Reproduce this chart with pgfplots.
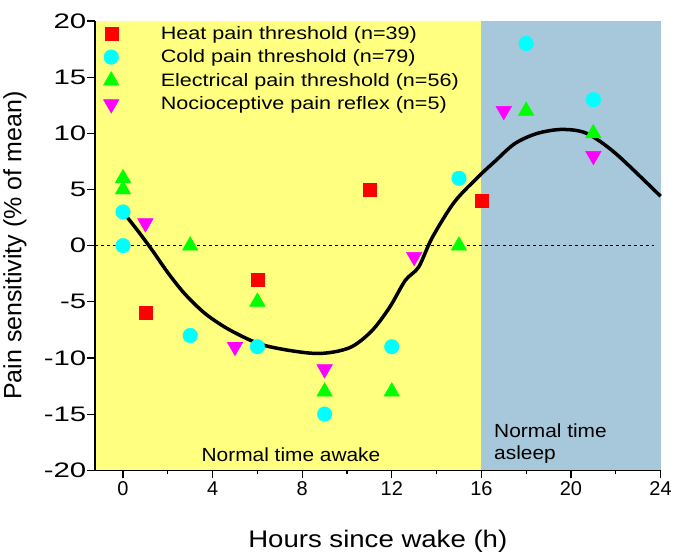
\documentclass[border=0pt]{standalone}
\usepackage{fontspec}
\setmainfont{Liberation Sans}
\usepackage{pgfplots}
\pgfplotsset{compat=1.18}
\definecolor{awake}{HTML}{FFFF80}
\definecolor{asleep}{HTML}{A7C8DA}
\definecolor{mred}{RGB}{255,0,0}
\definecolor{mcyan}{RGB}{0,255,255}
\definecolor{mgreen}{RGB}{0,255,0}
\definecolor{mmagenta}{RGB}{255,0,255}
\pgfplotsset{mylegend/.style={legend image code/.code={%
  \draw[##1] plot coordinates {(0bp,0bp)};
  \path[draw=none] (-8bp,0bp) -- (47bp,0bp);}}}
\begin{document}
\begin{tikzpicture}
\begin{axis}[
  width=564bp, height=448bp, scale only axis,
  xmin=-1.25, xmax=24, ymin=-20, ymax=20,
  axis x line*=bottom, axis y line*=left,
  axis on top,
  xtick={0,4,...,24}, minor xtick={2,6,...,22},
  ytick={-20,-15,...,20},
  tick align=outside,
  major tick length=8bp, minor tick length=4bp,
  axis line style={line width=1.2bp},
  every tick/.style={black, line width=1.2bp},
  /pgf/number format/assume math mode=true,
  xticklabel style={font=\fontsize{20}{24}\selectfont},
  yticklabel style={font=\fontsize{21}{24}\selectfont, xscale=1.4, xshift=3bp},
  xlabel={Hours since wake (h)},
  ylabel={Pain sensitivity (\% of mean)},
  xlabel style={font=\fontsize{24}{28}\selectfont, xscale=1.15, yshift=-27bp},
  ylabel style={font=\fontsize{25}{28}\selectfont, yshift=9bp},
  legend style={at={(0,1)}, anchor=north west, draw=none, fill=none,
    xshift=5bp, yshift=-1bp,
    font=\fontsize{18}{21}\selectfont, row sep=5bp,
    nodes={xscale=1.2}},
  legend cell align=left,
  clip=false,
]
% shaded periods
\addplot[fill=awake, draw=none, forget plot] coordinates {(-1.25,-20) (16,-20) (16,20) (-1.25,20)} -- cycle;
\addplot[fill=asleep, draw=none, forget plot] coordinates {(16,-20) (24,-20) (24,20) (16,20)} -- cycle;
% zero line
\addplot[black, dashed, line width=0.8bp, forget plot] coordinates {(-1.25,0) (23.7,0)};

\addplot[only marks, mark=square*, mark size=6.5bp, color=mred, mylegend] coordinates {
  (1,-6) (6,-3) (11,5) (16,4)
};
\addlegendentry{Heat pain threshold (n=39)}

\addplot[only marks, mark=*, mark size=7.3bp, color=mcyan, mylegend] coordinates {
  (0,3) (0,0) (3,-8) (6,-9) (9,-15) (12,-9) (15,6) (18,18) (21,13)
};
\addlegendentry{Cold pain threshold (n=79)}

\addplot[only marks, mark=triangle*, mark size=9bp, color=mgreen, mylegend] coordinates {
  (0,6) (0,5) (3,0) (6,-5) (9,-13) (12,-13) (15,0) (18,12) (21,10)
};
\addlegendentry{Electrical pain threshold (n=56)}

\addplot[only marks, mark=triangle*, mark size=9bp, mark options={rotate=180}, color=mmagenta, mylegend] coordinates {
  (1,2) (5,-9) (9,-11) (13,-1) (17,12) (21,8)
};
\addlegendentry{Nocioceptive pain reflex (n=5)}

% fitted curve
\addplot[black, line width=3.5bp, smooth, forget plot] coordinates {
  (0,3) (0.67,1.3) (1.3,-0.4) (2,-2.4) (2.76,-4.3) (3.7,-6.1) (4.85,-7.6)
  (6.35,-8.9) (8.6,-9.6) (10.1,-9.1) (11.1,-7.6) (11.9,-5.5) (12.6,-3.1)
  (13.2,-1.9) (13.8,0.7) (14.8,3.9) (15.9,6.2) (16.6,7.5) (17.5,9.1)
  (18.5,10.0) (19.6,10.35) (20.7,10.0) (22,8.2) (24,4.4)
};

\node[font=\fontsize{19}{22}\selectfont, xscale=1.1] at (axis cs:7.5,-18.6) {Normal time awake};
\node[font=\fontsize{19}{22}\selectfont, xscale=1.1, anchor=west, align=left] at (axis cs:16.4,-17.6) {Normal time\\asleep};
\end{axis}
% white space above the axis, as in the reference
\path ([yshift=21bp]current axis.north west);
\end{tikzpicture}
\end{document}
